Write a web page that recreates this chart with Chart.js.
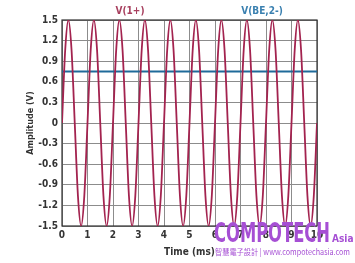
<!DOCTYPE html>
<html><head><meta charset="utf-8">
<script src="https://cdn.jsdelivr.net/npm/chart.js@4"></script>
<style>html,body{margin:0;padding:0;background:#fff}#wrap{position:relative;width:355px;height:263px}</style>
</head><body><div id="wrap"><canvas id="c" width="355" height="263"></canvas></div>
<script>
// Time points (ms) and readings for V(1+)
const timeMs = [0,0.125,0.25,0.375,0.5,0.625,0.75,0.875,1,1.125,1.25,1.375,1.5,1.625,1.75,1.875,2,2.125,2.25,2.375,2.5,2.625,2.75,2.875,3,3.125,3.25,3.375,3.5,3.625,3.75,3.875,4,4.125,4.25,4.375,4.5,4.625,4.75,4.875,5,5.125,5.25,5.375,5.5,5.625,5.75,5.875,6,6.125,6.25,6.375,6.5,6.625,6.75,6.875,7,7.125,7.25,7.375,7.5,7.625,7.75,7.875,8,8.125,8.25,8.375,8.5,8.625,8.75,8.875,9,9.125,9.25,9.375,9.5,9.625,9.75,9.875,10];
const v1Plus = [0,1.06,1.5,1.06,0,-1.06,-1.5,-1.06,0,1.06,1.5,1.06,0,-1.06,-1.5,-1.06,0,1.06,1.5,1.06,0,-1.06,-1.5,-1.06,0,1.06,1.5,1.06,0,-1.06,-1.5,-1.06,0,1.06,1.5,1.06,0,-1.06,-1.5,-1.06,0,1.06,1.5,1.06,0,-1.06,-1.5,-1.06,0,1.06,1.5,1.06,0,-1.06,-1.5,-1.06,0,1.06,1.5,1.06,0,-1.06,-1.5,-1.06,0,1.06,1.5,1.06,0,-1.06,-1.5,-1.06,0,1.06,1.5,1.06,0,-1.06,-1.5,-1.06,0];
// V(BE,2-) flat level
const vbeTime = [0, 10];
const vbe2Minus = [0.75, 0.75];
// Tick labels
const xTicks = [0,1,2,3,4,5,6,7,8,9,10];
const yTicks = [-1.5,-1.2,-0.9,-0.6,-0.3,0,0.3,0.6,0.9,1.2,1.5];
const seriesNames = ["V(1+)", "V(BE,2-)"];

const FONT = "'Liberation Sans Narrow','DejaVu Sans Condensed',sans-serif";
const RED = '#a3234f', BLUE = '#1f6a9a';

const decor = {
  id: 'decor',
  beforeDatasetsDraw(chart) {
    const ctx = chart.ctx, a = chart.chartArea;
    ctx.save();
    ctx.strokeStyle = '#333';
    ctx.lineWidth = 1.2;
    ctx.strokeRect(a.left, a.top, a.right - a.left, a.bottom - a.top);
    ctx.restore();
  },
  afterDraw(chart) {
    const ctx = chart.ctx, a = chart.chartArea;
    ctx.save();
    ctx.font = "bold 10px " + FONT;
    ctx.textAlign = 'center';
    ctx.textBaseline = 'middle';
    ctx.fillStyle = '#a8405f';
    ctx.fillText(seriesNames[0], 130, 11);
    ctx.fillStyle = '#3a80b0';
    ctx.fillText(seriesNames[1], 262, 11);
    // watermark
    ctx.fillStyle = '#a64fd4';
    ctx.textAlign = 'left';
    ctx.textBaseline = 'alphabetic';
    ctx.font = "bold 27px " + FONT;
    const w = ctx.measureText('COMPOTECH').width;
    ctx.save();
    ctx.translate(214, 242);
    ctx.scale(116 / w, 1);
    ctx.fillText('COMPOTECH', 0, 0);
    ctx.restore();
    ctx.font = "bold 10px " + FONT;
    ctx.fillText('Asia', 332, 242);
    ctx.font = "8px 'Noto Sans CJK TC', sans-serif";
    const sub = '智慧電子設計 | www.compotechasia.com';
    const sw = ctx.measureText(sub).width;
    ctx.save();
    ctx.translate(215, 255);
    ctx.scale(Math.min(1, 135 / sw), 1);
    ctx.fillText(sub, 0, 0);
    ctx.restore();
    ctx.restore();
  }
};

new Chart(document.getElementById('c'), {
  type: 'line',
  data: {
    datasets: [
      { label: seriesNames[1], data: vbeTime.map((t, i) => ({x: t, y: vbe2Minus[i]})), borderColor: BLUE, borderWidth: 2.2, pointRadius: 0, order: 1 },
      { label: seriesNames[0], data: timeMs.map((t, i) => ({x: t, y: v1Plus[i]})), borderColor: RED, borderWidth: 1.8, pointRadius: 0, cubicInterpolationMode: 'monotone', order: 0 }
    ]
  },
  options: {
    responsive: false, animation: false,
    layout: { padding: { left: 0, right: 38, top: 20, bottom: 0 } },
    plugins: { legend: { display: false }, tooltip: { enabled: false } },
    scales: {
      x: {
        type: 'linear', min: 0, max: 10,
        afterBuildTicks: s => { s.ticks = xTicks.map(v => ({value: v})); },
        afterFit: s => { s.height = 37; },
        ticks: { color: '#333', font: { family: FONT, size: 10, weight: 'bold' }, padding: 3, maxRotation: 0 },
        grid: { color: '#8c8c8c', lineWidth: 1, drawTicks: false },
        border: { display: false },
        title: { display: true, text: 'Time (ms)', color: '#333', font: { family: FONT, size: 10, weight: 'bold' }, padding: { top: 0, bottom: 5 } }
      },
      y: {
        min: -1.5, max: 1.5,
        afterBuildTicks: s => { s.ticks = yTicks.map(v => ({value: v})); },
        afterFit: s => { s.width = 62; },
        ticks: { color: '#333', font: { family: FONT, size: 10, weight: 'bold' }, padding: 4, callback: v => String(v) },
        grid: { color: '#8c8c8c', lineWidth: 1, drawTicks: false },
        border: { display: false },
        title: { display: true, text: 'Amplitude (V)', color: '#333', font: { family: FONT, size: 9, weight: 'bold' }, padding: { top: 25, bottom: 0 } }
      }
    }
  },
  plugins: [decor]
});
</script></body></html>
